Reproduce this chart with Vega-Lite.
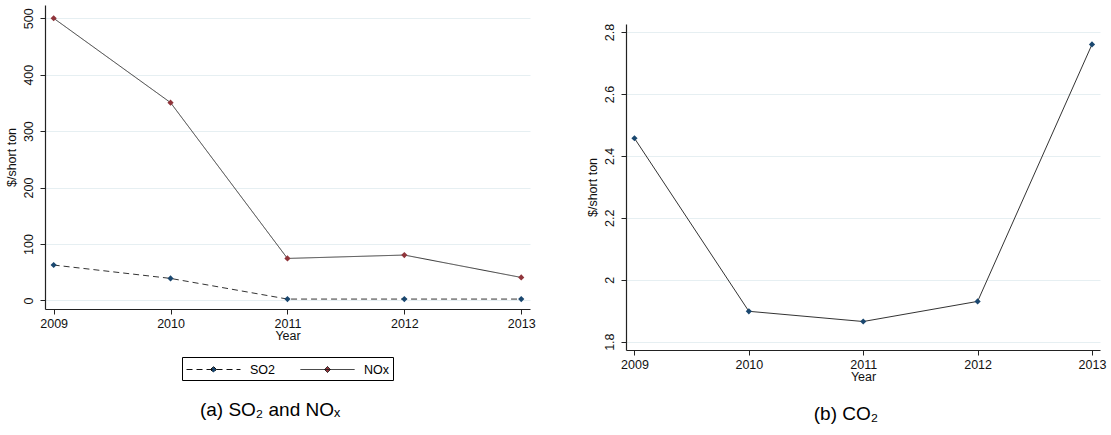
{
  "$schema": "https://vega.github.io/schema/vega-lite/v6.json",
  "padding": {"left": 5, "top": 5, "right": 5, "bottom": 5},
  "config": {
    "view": {"stroke": null},
    "font": "Liberation Sans",
    "axis": {
      "domainColor": "#222", "domainWidth": 1.2, "tickColor": "#222", "tickSize": 5,
      "labelFont": "Liberation Sans", "labelFontSize": 12.5, "labelColor": "#111",
      "titleFont": "Liberation Sans", "titleFontSize": 12.5, "titleFontWeight": "normal", "titleColor": "#111",
      "gridColor": "#e6eff2", "gridWidth": 1
    },
    "title": {"font": "Liberation Sans", "fontSize": 19, "fontWeight": "normal", "color": "#000", "orient": "bottom", "anchor": "middle", "frame": "bounds"},
    "concat": {"spacing": 50}
  },
  "datasets": {
    "a": [
      {"Year": 2009, "series": "SO2", "value": 62.7},
      {"Year": 2010, "series": "SO2", "value": 39},
      {"Year": 2011, "series": "SO2", "value": 2.4},
      {"Year": 2012, "series": "SO2", "value": 2.4},
      {"Year": 2013, "series": "SO2", "value": 2.4},
      {"Year": 2009, "series": "NOx", "value": 500},
      {"Year": 2010, "series": "NOx", "value": 350.5},
      {"Year": 2011, "series": "NOx", "value": 74.4},
      {"Year": 2012, "series": "NOx", "value": 80.4},
      {"Year": 2013, "series": "NOx", "value": 40.7}
    ],
    "b": [
      {"Year": 2009, "value": 2.457},
      {"Year": 2010, "value": 1.898},
      {"Year": 2011, "value": 1.865},
      {"Year": 2012, "value": 1.93},
      {"Year": 2013, "value": 2.76}
    ]
  },
  "hconcat": [
    {
      "title": {"text": "(a)  SO₂ and NOₓ", "offset": 59},
      "data": {"name": "a"},
      "width": 485,
      "height": 304,
      "encoding": {
        "x": {"field": "Year", "type": "quantitative", "scale": {"domain": [2008.926, 2013.075], "nice": false, "zero": false},
              "axis": {"values": [2009, 2010, 2011, 2012, 2013], "format": "d", "grid": false, "title": "Year", "labelPadding": 3, "titlePadding": 0, "labelFlush": false}},
        "y": {"field": "value", "type": "quantitative", "scale": {"domain": [-15.2, 523.5], "nice": false, "zero": false},
              "axis": {"values": [0, 100, 200, 300, 400, 500], "title": "$/short ton", "labelAngle": -90, "labelPadding": 5, "titlePadding": 4, "grid": true}}
      },
      "layer": [
        {
          "mark": {"type": "line", "color": "#333", "strokeWidth": 1},
          "encoding": {
            "detail": {"field": "series"},
            "strokeDash": {"field": "series", "type": "nominal", "sort": ["SO2", "NOx"],
              "scale": {"domain": ["SO2", "NOx"], "range": [[6, 4], [1, 0]]},
              "legend": {"orient": "none", "legendX": 137, "legendY": 352, "direction": "horizontal", "title": null, "strokeColor": "#000", "padding": 4,
                "symbolType": "M-1,0L5.75,0M2.375,-0.375L2.75,0L2.375,0.375L2,0Z", "symbolSize": 256, "symbolStrokeColor": "#000", "symbolStrokeWidth": 1,
                "labelFontSize": 12.5, "labelFont": "Liberation Sans", "columnPadding": 22, "labelOffset": 47,
                "encode": {"symbols": {"update": {
                  "fill": {"signal": "datum.value === 'SO2' ? '#1a476f' : '#90353b'"}, "fillOpacity": {"value": 1},
                  "stroke": {"value": "#111"}, "strokeOpacity": {"value": 1}, "strokeWidth": {"value": 1}}}}}
            }
          }
        },
        {
          "mark": {"type": "point", "shape": "diamond", "filled": true, "size": 38, "opacity": 1},
          "encoding": {
            "color": {"field": "series", "type": "nominal", "scale": {"domain": ["SO2", "NOx"], "range": ["#1a476f", "#90353b"]}, "legend": null}
          }
        }
      ]
    },
    {
      "title": {"text": "(b)  CO₂", "offset": 22},
      "spacing": 0,
      "vconcat": [
        {
          "width": 20, "height": 18,
          "data": {"values": [{"a": 1}]},
          "mark": {"type": "point", "opacity": 0}
        },
        {
          "data": {"name": "b"},
          "width": 474,
          "height": 326,
          "encoding": {
            "x": {"field": "Year", "type": "quantitative", "scale": {"domain": [2008.926, 2013.07], "nice": false, "zero": false},
                  "axis": {"values": [2009, 2010, 2011, 2012, 2013], "format": "d", "grid": false, "title": "Year", "labelPadding": 3, "titlePadding": 0, "labelFlush": false}},
            "y": {"field": "value", "type": "quantitative", "scale": {"domain": [1.773, 2.826], "nice": false, "zero": false},
                  "axis": {"values": [1.8, 2, 2.2, 2.4, 2.6, 2.8], "format": "~g", "title": "$/short ton", "labelAngle": -90, "labelPadding": 5, "titlePadding": 4, "grid": true}}
          },
          "layer": [
            {"mark": {"type": "line", "color": "#333", "strokeWidth": 1}, "encoding": {}},
            {"mark": {"type": "point", "shape": "diamond", "filled": true, "size": 38, "opacity": 1, "color": "#1a476f"}, "encoding": {}}
          ]
        }
      ]
    }
  ]
}
